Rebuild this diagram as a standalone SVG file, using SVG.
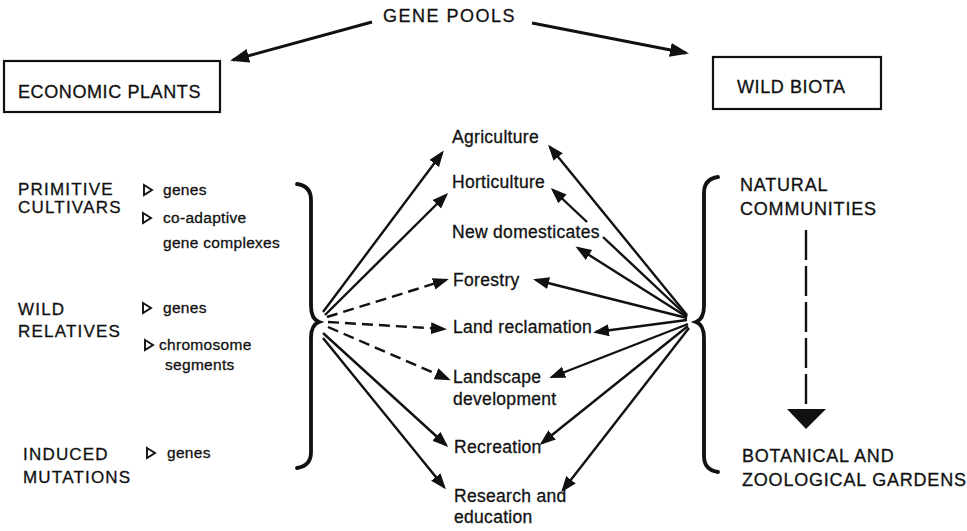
<svg xmlns="http://www.w3.org/2000/svg" width="967" height="531" viewBox="0 0 967 531">
<style>
text{font-family:"Liberation Sans",Arial,sans-serif;fill:#111;stroke:#111;stroke-width:0.3px}
.top{font-size:18px;letter-spacing:1.5px}
.box{font-size:18px;letter-spacing:0.6px}
.cap{font-size:17px;letter-spacing:1.2px}
.rcap{font-size:18px;letter-spacing:0.8px}
.sm{font-size:15.5px;letter-spacing:0.3px}
.mid{font-size:17.5px;letter-spacing:0.3px}
.frame{fill:none;stroke:#111;stroke-width:2.2}
.ln{fill:none;stroke:#111;stroke-width:2.4;marker-end:url(#ah)}
.plain{fill:none;stroke:#111;stroke-width:2.4}
.dash{stroke-dasharray:11 6}
.big{fill:none;stroke:#111;stroke-width:3;marker-end:url(#ahb)}
.brace{fill:none;stroke:#111;stroke-width:3.8;stroke-linecap:round}
.tri{fill:none;stroke:#111;stroke-width:1.9;stroke-linejoin:miter}
</style>
<defs>
<marker id="ah" markerUnits="userSpaceOnUse" markerWidth="18" markerHeight="14" refX="13" refY="6" orient="auto">
<path d="M0,0 L16,6 L0,12 z" fill="#111"/>
</marker>
<marker id="ahb" markerUnits="userSpaceOnUse" markerWidth="22" markerHeight="16" refX="16" refY="7" orient="auto">
<path d="M0,0 L19,7 L0,14 z" fill="#111"/>
</marker>
</defs>
<rect width="967" height="531" fill="#fff"/>

<g id="connectors">
<line class="big" x1="372" y1="22" x2="233" y2="60"/>
<line class="big" x1="532" y1="23" x2="686" y2="53"/>
<line class="ln" x1="323" y1="312" x2="442" y2="153"/>
<line class="ln" x1="325" y1="315" x2="446" y2="195"/>
<line class="ln dash" x1="327" y1="317" x2="446" y2="280"/>
<line class="ln dash" x1="328" y1="322" x2="444" y2="329"/>
<line class="ln dash" x1="328" y1="327" x2="448" y2="379"/>
<line class="ln" x1="323" y1="333" x2="446" y2="445"/>
<line class="ln" x1="323" y1="338" x2="444" y2="487"/>
<line class="ln" x1="687" y1="315" x2="550" y2="147"/>
<line class="plain" x1="687" y1="316" x2="603" y2="237"/>
<line class="ln" x1="587" y1="222" x2="553" y2="190"/>
<line class="ln" x1="687" y1="317" x2="578" y2="248"/>
<line class="ln" x1="687" y1="318" x2="536" y2="280"/>
<line class="ln" x1="687" y1="320" x2="596" y2="332"/>
<line class="ln" x1="688" y1="324" x2="552" y2="377"/>
<line class="ln" x1="688" y1="326" x2="542" y2="443"/>
<line class="ln" x1="689" y1="328" x2="563" y2="490"/>
<line x1="806" y1="230" x2="806" y2="410" stroke="#111" stroke-width="2.4" stroke-dasharray="30 6"/>
<path d="M787,409 L826,409 L806,429 z" fill="#111"/>
</g>

<g id="gene-pools"><text class="top" x="383" y="22">GENE POOLS</text></g>

<g id="economic-plants">
<rect class="frame" x="4" y="61" width="216" height="51"/>
<text class="box" x="18" y="98">ECONOMIC PLANTS</text>
</g>
<g id="wild-biota">
<rect class="frame" x="713" y="57" width="168" height="52"/>
<text class="box" x="737" y="93">WILD BIOTA</text>
</g>

<g id="primitive-cultivars">
<text class="cap" x="18" y="195">PRIMITIVE</text>
<text class="cap" x="18" y="213">CULTIVARS</text>
<path class="tri" d="M144,185 L152,190 L144,195 z"/>
<text class="sm" x="163" y="195">genes</text>
<path class="tri" d="M143,213 L151,218 L143,223 z"/>
<text class="sm" x="163" y="223">co-adaptive</text>
<text class="sm" x="163" y="248">gene complexes</text>
</g>
<g id="wild-relatives">
<text class="cap" x="18" y="315">WILD</text>
<text class="cap" x="18" y="337">RELATIVES</text>
<path class="tri" d="M143,303 L151,308 L143,313 z"/>
<text class="sm" x="163" y="313">genes</text>
<path class="tri" d="M145,340 L153,345 L145,350 z"/>
<text class="sm" x="159" y="350">chromosome</text>
<text class="sm" x="165" y="370">segments</text>
</g>
<g id="induced-mutations">
<text class="cap" x="23" y="460">INDUCED</text>
<text class="cap" x="23" y="483">MUTATIONS</text>
<path class="tri" d="M147,448 L155,453 L147,458 z"/>
<text class="sm" x="167" y="458">genes</text>
</g>
<g id="left-brace">
<path class="brace" d="M297,184 Q311,186 311,200 L311,306 Q311,319 319,322 Q311,325 311,338 L311,452 Q311,466 297,468"/>
</g>

<g id="agriculture"><text class="mid" x="452" y="143">Agriculture</text></g>
<g id="horticulture"><text class="mid" x="452" y="188">Horticulture</text></g>
<g id="new-domesticates"><text class="mid" x="452" y="238">New domesticates</text></g>
<g id="forestry"><text class="mid" x="453" y="286">Forestry</text></g>
<g id="land-reclamation"><text class="mid" x="453" y="333">Land reclamation</text></g>
<g id="landscape-development"><text class="mid" x="453" y="383">Landscape</text><text class="mid" x="453" y="405">development</text></g>
<g id="recreation"><text class="mid" x="454" y="453">Recreation</text></g>
<g id="research-education"><text class="mid" x="454" y="502">Research and</text><text class="mid" x="454" y="523">education</text></g>

<g id="right-brace">
<path class="brace" d="M718,177 Q704,179 704,193 L704,306 Q704,319 696,322 Q704,325 704,338 L704,456 Q704,470 718,472"/>
</g>
<g id="natural-communities">
<text class="rcap" x="740" y="191">NATURAL</text>
<text class="rcap" x="740" y="215">COMMUNITIES</text>
</g>
<g id="botanical-gardens">
<text class="rcap" x="742" y="462">BOTANICAL AND</text>
<text class="rcap" x="742" y="486" letter-spacing="0.5">ZOOLOGICAL GARDENS</text>
</g>
</svg>
